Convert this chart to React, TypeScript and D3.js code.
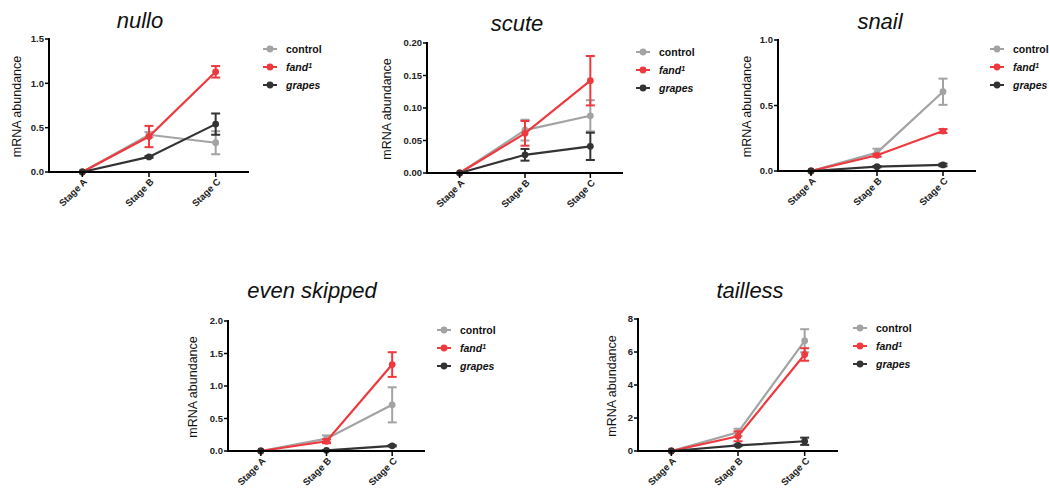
import React from "react";
import * as d3 from "d3";

const stages = ["Stage A", "Stage B", "Stage C"];
const seriesNames = ["control", "fand", "grapes"];

// nullo
const nulloControl = [0, 0.42, 0.33];
const nulloControlErr = [0, 0.03, 0.13];
const nulloFand = [0, 0.4, 1.13];
const nulloFandErr = [0, 0.12, 0.065];
const nulloGrapes = [0, 0.17, 0.54];
const nulloGrapesErr = [0, 0.01, 0.12];
const nulloTicks = [0, 0.5, 1.0, 1.5];

// scute
const scuteControl = [0, 0.066, 0.088];
const scuteControlErr = [0, 0.016, 0.024];
const scuteFand = [0, 0.061, 0.142];
const scuteFandErr = [0, 0.019, 0.038];
const scuteGrapes = [0, 0.028, 0.041];
const scuteGrapesErr = [0, 0.009, 0.021];
const scuteTicks = [0, 0.05, 0.1, 0.15, 0.2];

// snail
const snailControl = [0, 0.14, 0.605];
const snailControlErr = [0, 0.03, 0.1];
const snailFand = [0, 0.12, 0.305];
const snailFandErr = [0, 0.01, 0.015];
const snailGrapes = [0, 0.033, 0.046];
const snailGrapesErr = [0, 0.005, 0.01];
const snailTicks = [0, 0.5, 1.0];

// even skipped
const eveControl = [0, 0.19, 0.71];
const eveControlErr = [0, 0.05, 0.27];
const eveFand = [0, 0.15, 1.33];
const eveFandErr = [0, 0.03, 0.19];
const eveGrapes = [0, 0.01, 0.08];
const eveGrapesErr = [0, 0.005, 0.01];
const eveTicks = [0, 0.5, 1.0, 1.5, 2.0];

// tailless
const tllControl = [0, 1.13, 6.68];
const tllControlErr = [0, 0.22, 0.7];
const tllFand = [0, 0.89, 5.85];
const tllFandErr = [0, 0.3, 0.38];
const tllGrapes = [0, 0.34, 0.59];
const tllGrapesErr = [0, 0.05, 0.22];
const tllTicks = [0, 2, 4, 6, 8];

const colors: Record<string, string> = {
  control: "#a3a3a3",
  fand: "#ee3a3f",
  grapes: "#333333",
};

type Panel = {
  title: string;
  values: number[][];
  errs: number[][];
  ticks: number[];
  fmt: string;
  left: number;
  right: number;
  top: number;
  bottom: number;
  legendX: number;
  legendY: number;
  titleX: number;
  titleY: number;
  labelX: number;
};

const panels: Panel[] = [
  {
    title: "nullo",
    values: [nulloControl, nulloFand, nulloGrapes],
    errs: [nulloControlErr, nulloFandErr, nulloGrapesErr],
    ticks: nulloTicks, fmt: ".1f",
    left: 49, right: 249, top: 39, bottom: 172,
    legendX: 270, legendY: 49, titleX: 140, titleY: 28, labelX: 17,
  },
  {
    title: "scute",
    values: [scuteControl, scuteFand, scuteGrapes],
    errs: [scuteControlErr, scuteFandErr, scuteGrapesErr],
    ticks: scuteTicks, fmt: ".2f",
    left: 427, right: 623, top: 43, bottom: 173,
    legendX: 643, legendY: 52, titleX: 517, titleY: 31, labelX: 387,
  },
  {
    title: "snail",
    values: [snailControl, snailFand, snailGrapes],
    errs: [snailControlErr, snailFandErr, snailGrapesErr],
    ticks: snailTicks, fmt: ".1f",
    left: 778, right: 976, top: 40, bottom: 171,
    legendX: 997, legendY: 49, titleX: 880, titleY: 29, labelX: 747,
  },
  {
    title: "even skipped",
    values: [eveControl, eveFand, eveGrapes],
    errs: [eveControlErr, eveFandErr, eveGrapesErr],
    ticks: eveTicks, fmt: ".1f",
    left: 228, right: 425, top: 321, bottom: 451,
    legendX: 444, legendY: 330, titleX: 312, titleY: 298, labelX: 193,
  },
  {
    title: "tailless",
    values: [tllControl, tllFand, tllGrapes],
    errs: [tllControlErr, tllFandErr, tllGrapesErr],
    ticks: tllTicks, fmt: "d",
    left: 638, right: 838, top: 319, bottom: 451,
    legendX: 860, legendY: 328, titleX: 750, titleY: 298, labelX: 612,
  },
];

const FONT = "'Liberation Sans', Arial, sans-serif";

function PanelView({ p }: { p: Panel }) {
  const x = d3.scalePoint<string>().domain(stages).range([p.left, p.right]).padding(0.5);
  const yMax = p.ticks[p.ticks.length - 1];
  const y = d3.scaleLinear().domain([0, yMax]).range([p.bottom, p.top]);
  const f = d3.format(p.fmt);
  const line = d3
    .line<number>()
    .x((_, i) => x(stages[i]) as number)
    .y((v) => y(v));
  const cap = 4.5;
  return (
    <g>
      <text x={p.titleX} y={p.titleY} textAnchor="middle" fontFamily={FONT} fontStyle="italic" fontSize={22} fill="#111">
        {p.title}
      </text>
      <text
        transform={`translate(${p.labelX},${(p.top + p.bottom) / 2 + 1}) rotate(-90)`}
        dy="0.35em"
        textAnchor="middle"
        fontFamily={FONT}
        fontSize={12.5}
        fill="#111"
      >
        mRNA abundance
      </text>
      {p.values.map((vals, si) => {
        const c = colors[seriesNames[si]];
        return (
          <g key={si}>
            <path d={line(vals) || ""} fill="none" stroke={c} strokeWidth={2.2} />
            {vals.map((v, i) => {
              const e = p.errs[si][i];
              const cx = x(stages[i]) as number;
              return (
                <g key={i}>
                  {e > 0 && (
                    <g stroke={c} strokeWidth={2}>
                      <line x1={cx} x2={cx} y1={y(v - e)} y2={y(v + e)} />
                      <line x1={cx - cap} x2={cx + cap} y1={y(v - e)} y2={y(v - e)} />
                      <line x1={cx - cap} x2={cx + cap} y1={y(v + e)} y2={y(v + e)} />
                    </g>
                  )}
                  <circle cx={cx} cy={y(v)} r={3.4} fill={c} />
                </g>
              );
            })}
          </g>
        );
      })}
      <line x1={p.left} x2={p.left} y1={p.top - 1} y2={p.bottom + 1} stroke="#000" strokeWidth={2} />
      <line x1={p.left - 1} x2={p.right} y1={p.bottom} y2={p.bottom} stroke="#000" strokeWidth={2} />
      {p.ticks.map((t) => (
        <g key={t}>
          <line x1={p.left - 4} x2={p.left} y1={y(t)} y2={y(t)} stroke="#000" strokeWidth={1.5} />
          <text x={p.left - 5} y={y(t)} dy="0.35em" textAnchor="end" fontFamily={FONT} fontWeight="bold" fontSize={9.5} fill="#222">
            {f(t)}
          </text>
        </g>
      ))}
      {stages.map((s) => {
        const cx = x(s) as number;
        return (
          <g key={s}>
            <line x1={cx} x2={cx} y1={p.bottom} y2={p.bottom + 5} stroke="#000" strokeWidth={1.5} />
            <text
              transform={`translate(${cx + 3},${p.bottom + 8}) rotate(-45)`}
              textAnchor="end"
              dy="0.35em"
              fontFamily={FONT}
              fontWeight="bold"
              fontSize={9.5}
              fill="#222"
            >
              {s}
            </text>
          </g>
        );
      })}
      {seriesNames.map((n, i) => {
        const ly = p.legendY + i * 18;
        const c = colors[n];
        return (
          <g key={n}>
            <line x1={p.legendX - 7} x2={p.legendX + 7} y1={ly} y2={ly} stroke={c} strokeWidth={2} />
            <circle cx={p.legendX} cy={ly} r={3.4} fill={c} />
            <text x={p.legendX + 16} y={ly} dy="0.35em" fontFamily={FONT} fontWeight="bold" fontSize={10.5} fill="#111"
              fontStyle={n === "control" ? "normal" : "italic"}>
              {n}
              {n === "fand" && (
                <tspan dy="-0.45em" fontSize={7}>1</tspan>
              )}
            </text>
          </g>
        );
      })}
    </g>
  );
}

export default function App() {
  return (
    <svg width={1049} height={493} style={{ position: "absolute", left: 0, top: 0, background: "#fff" }}>
      <rect width={1049} height={493} fill="#fff" />
      {panels.map((p) => (
        <PanelView key={p.title} p={p} />
      ))}
    </svg>
  );
}
